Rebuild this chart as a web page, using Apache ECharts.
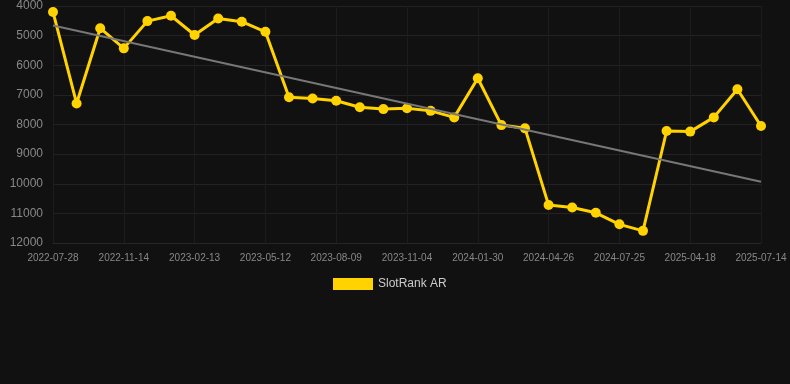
<!DOCTYPE html>
<html>
<head>
<meta charset="utf-8">
<script src="https://cdn.jsdelivr.net/npm/echarts@6/dist/echarts.min.js"></script>
<style>
html,body{margin:0;padding:0;background:#111111;}
#chart{width:790px;height:384px;}
</style>
</head>
<body>
<div id="chart"></div>
<script>
	//数据
	var dates = ['2022-07-28','2022-09-02','2022-10-08','2022-11-14','2022-12-14','2023-01-13','2023-02-13',
		'2023-03-13','2023-04-12','2023-05-12','2023-06-10','2023-07-10','2023-08-09','2023-09-07',
		'2023-10-06','2023-11-04','2023-12-03','2024-01-01','2024-01-30','2024-02-28','2024-03-28',
		'2024-04-26','2024-05-26','2024-06-25','2024-07-25','2024-10-22','2025-01-19','2025-04-18',
		'2025-05-18','2025-06-15','2025-07-14'];
	var rankValues = [4200,7290,4750,5430,4510,4330,4980,4420,4530,4870,7080,7120,7200,7420,7480,
		7450,7540,7760,6440,8020,8130,10720,10800,10980,11370,11590,8220,8240,7760,6810,8050];
	var trendStart = 4660;
	var trendEnd = 9930;
	var yTicks = [4000,12000,1000]; // min, max, interval

	var chart = echarts.init(document.getElementById('chart'));
	var option = {
		backgroundColor: '#111111',
		animation: false,
		grid: {top: 6, bottom: 141, left: 53, right: 29},
		legend: {
			top: 273, left: 328,
			itemWidth: 40, itemHeight: 12, itemGap: 10,
			textStyle: {color: '#cccccc', fontSize: 12},
			data: [{name: 'SlotRank AR', icon: 'rect'}]
		},
		xAxis: {
			type: 'category', data: dates, boundaryGap: false,
			axisLabel: {interval: 2, color: '#888888', fontSize: 10, margin: 10},
			axisTick: {show: false},
			axisLine: {lineStyle: {color: '#262626'}},
			splitLine: {show: true, interval: 2, lineStyle: {color: '#1c1c1c'}}
		},
		yAxis: {
			type: 'value', inverse: true,
			min: yTicks[0], max: yTicks[1], interval: yTicks[2],
			axisLabel: {color: '#888888', fontSize: 12, margin: 10, formatter: function(v){ return String(v); }},
			axisLine: {show: false},
			axisTick: {show: false},
			splitLine: {lineStyle: {color: '#222222'}}
		},
		series: [{
			name: 'SlotRank AR', type: 'line', data: rankValues,
			symbol: 'circle', symbolSize: 10,
			itemStyle: {color: '#ffd200'},
			lineStyle: {color: '#ffd200', width: 3},
			z: 3,
			markLine: {
				silent: true, symbol: 'none', label: {show: false},
				lineStyle: {color: '#777777', width: 2, type: 'solid'},
				data: [[{coord: [dates[0], trendStart]}, {coord: [dates[dates.length-1], trendEnd]}]]
			}
		}]
	};
	chart.setOption(option);
</script>
</body>
</html>
